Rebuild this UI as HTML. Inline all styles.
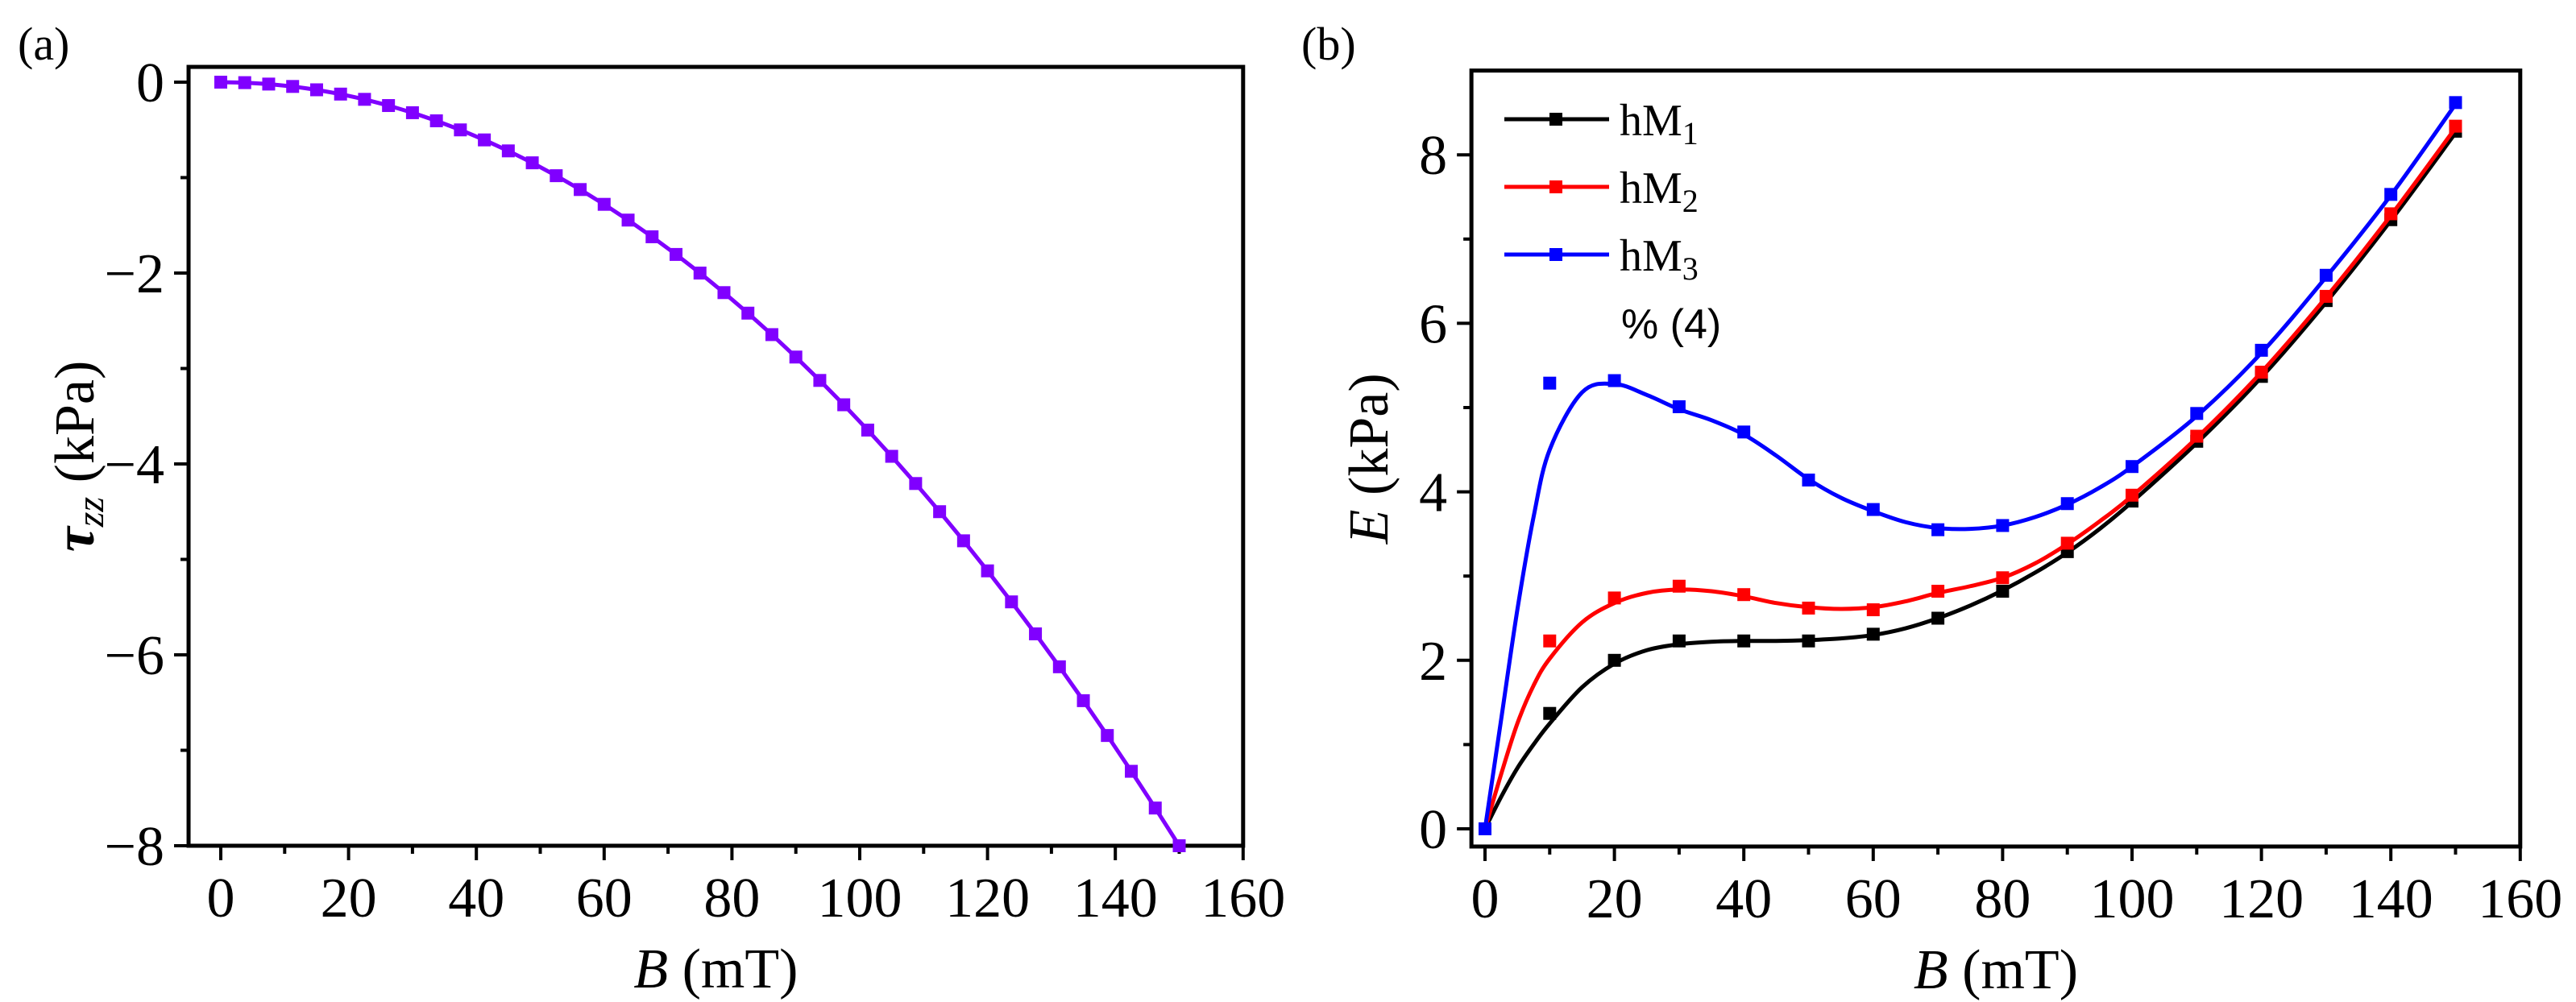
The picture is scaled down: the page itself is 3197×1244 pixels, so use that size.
<!DOCTYPE html>
<html><head><meta charset="utf-8"><style>html,body{margin:0;padding:0;background:#fff;overflow:hidden}svg{display:block}text{font-family:"Liberation Serif",serif;fill:#000}</style></head>
<body>
<svg id="c" width="3197" height="1244" viewBox="0 0 3197 1244" xmlns="http://www.w3.org/2000/svg">
<text x="22" y="74" font-size="58">(a)</text>
<text x="1615" y="74" font-size="58">(b)</text>
<g id="ga"></g>
<g id="gb"></g>
</svg>
<script>
const aB=[0,3.75,7.5,11.25,15,18.75,22.5,26.25,30,33.75,37.5,41.25,45,48.75,52.5,56.25,60,63.75,67.5,71.25,75,78.75,82.5,86.25,90,93.75,97.5,101.25,105,108.75,112.5,116.25,120,123.75,127.5,131.25,135,138.75,142.5,146.25,150];
const aTau=[0,-0.005,-0.02,-0.045,-0.08,-0.125,-0.18,-0.245,-0.32,-0.405,-0.5,-0.605,-0.72,-0.845,-0.98,-1.125,-1.28,-1.445,-1.62,-1.805,-2.0,-2.205,-2.42,-2.645,-2.88,-3.125,-3.38,-3.645,-3.92,-4.205,-4.5,-4.805,-5.12,-5.445,-5.78,-6.125,-6.48,-6.845,-7.22,-7.605,-8.0];
const xTicks=[0,20,40,60,80,100,120,140,160];
const aYTicks=[0,-2,-4,-6,-8];
const bYTicks=[0,2,4,6,8];
const bB=[0,10,20,30,40,50,60,70,80,90,100,110,120,130,140,150];
const hM1=[0,1.37,2.0,2.23,2.23,2.23,2.31,2.5,2.82,3.29,3.89,4.6,5.37,6.27,7.23,8.28];
const hM2=[0,2.23,2.74,2.88,2.78,2.62,2.6,2.82,2.98,3.39,3.96,4.66,5.42,6.32,7.3,8.34];
const hM3=[0,5.29,5.32,5.01,4.71,4.14,3.79,3.55,3.6,3.86,4.3,4.93,5.68,6.57,7.53,8.62];
const fitB=[0,2.5,5,7.5,10,15,20,25,30,35,40,45,50,55,60,65,70,75,80,85,90,95,100,110,120,130,140,150];
const fit1=[0,0.38,0.72,1.0,1.25,1.68,1.96,2.12,2.19,2.22,2.23,2.23,2.24,2.26,2.3,2.38,2.5,2.65,2.83,3.04,3.28,3.56,3.88,4.58,5.36,6.25,7.22,8.26];
const fit2=[0,0.65,1.25,1.7,2.02,2.45,2.68,2.8,2.84,2.82,2.76,2.68,2.63,2.61,2.63,2.7,2.8,2.88,2.98,3.15,3.38,3.65,3.95,4.64,5.42,6.31,7.28,8.32];
const fit3=[0,1.3,2.6,3.7,4.5,5.18,5.28,5.15,4.98,4.85,4.68,4.43,4.15,3.93,3.77,3.64,3.57,3.56,3.6,3.7,3.85,4.05,4.3,4.9,5.65,6.55,7.52,8.6];
const NS="http://www.w3.org/2000/svg";
function mk(p,t,a){const e=document.createElementNS(NS,t);for(const k in a)e.setAttribute(k,a[k]);p.appendChild(e);return e;}
function spline(pts){let d="M"+pts[0][0]+","+pts[0][1];for(let i=0;i<pts.length-1;i++){const p0=pts[Math.max(0,i-1)],p1=pts[i],p2=pts[i+1],p3=pts[Math.min(pts.length-1,i+2)];const c1=[p1[0]+(p2[0]-p0[0])/6,p1[1]+(p2[1]-p0[1])/6],c2=[p2[0]-(p3[0]-p1[0])/6,p2[1]-(p3[1]-p1[1])/6];d+=" C"+c1[0]+","+c1[1]+" "+c2[0]+","+c2[1]+" "+p2[0]+","+p2[1];}return d;}
function axes(g,X,Y,x0,x1,y0,y1,yTicks,yMinor,yTitleOff,yTitleNodes){
 const L=X(x0),R=X(x1),T=Y(y1),Bo=Y(y0);
 let e=mk(g,"rect",{x:L,y:T,width:R-L,height:Bo-T,fill:"none",stroke:"#000","stroke-width":5});
 
 xTicks.forEach(v=>{const x=X(v);mk(g,"line",{x1:x,x2:x,y1:Bo,y2:Bo+18,stroke:"#000","stroke-width":4});
  const t=mk(g,"text",{x:x,y:Bo+88,"font-size":70,"text-anchor":"middle"});t.textContent=v;
  
  if(v<160){const xm=X(v+10);mk(g,"line",{x1:xm,x2:xm,y1:Bo,y2:Bo+10,stroke:"#000","stroke-width":4});}});
 yTicks.forEach(v=>{const y=Y(v);mk(g,"line",{x1:L,x2:L-18,y1:y,y2:y,stroke:"#000","stroke-width":4});
  const t=mk(g,"text",{x:L-30,y:y+24,"font-size":70,"text-anchor":"end"});t.textContent=(v<0?"\u2212"+(-v):v);
  });
 yMinor.forEach(v=>{const y=Y(v);mk(g,"line",{x1:L,x2:L-10,y1:y,y2:y,stroke:"#000","stroke-width":4});});
 const xt=mk(g,"text",{x:(L+R)/2,y:Bo+176,"font-size":70,"text-anchor":"middle"});
 xt.innerHTML='<tspan font-style="italic">B</tspan> (mT)';
 
 const yt=mk(g,"text",{x:0,y:0,"font-size":70,"text-anchor":"middle",transform:"translate("+(L-yTitleOff)+","+((T+Bo)/2)+") rotate(-90)"});
 yt.innerHTML=yTitleNodes;
 
}
// chart a
const ga=document.getElementById("ga");
const Xa=v=>274+v*7.93, Ya=v=>102-v*118.5;
axes(ga,Xa,Ya,-5.04,160,-8,0.16,aYTicks,[-1,-3,-5,-7],118,'<tspan font-style="italic" font-weight="bold">τ</tspan><tspan font-size="48" dy="12" font-style="italic">zz</tspan><tspan dy="-12"> (kPa)</tspan>');
let pa=mk(ga,"polyline",{points:aB.map((b,i)=>Xa(b)+","+Ya(aTau[i])).join(" "),fill:"none",stroke:"#8000ff","stroke-width":5});

aB.forEach((b,i)=>{const r=mk(ga,"rect",{x:Xa(b)-8,y:Ya(aTau[i])-8,width:16,height:16,fill:"#8000ff"});
 });
// chart b
const gb=document.getElementById("gb");
const Xb=v=>1843+v*8.03, Yb=v=>1029-v*104.6;
axes(gb,Xb,Yb,-2.1,160,-0.21,9.0,bYTicks,[1,3,5,7],104,'<tspan font-style="italic">E</tspan> (kPa)');
const series=[[hM1,fit1,"#000000",1],[hM2,fit2,"#ff0000",2],[hM3,fit3,"#0000ff",3]];
series.forEach((s,k)=>{
 const p=mk(gb,"path",{d:spline(fitB.map((b,i)=>[Xb(b),Yb(s[1][i])])),fill:"none",stroke:s[2],"stroke-width":5});
 
 bB.forEach((b,i)=>{const r=mk(gb,"rect",{x:Xb(b)-8,y:Yb(s[0][i])-8,width:16,height:16,fill:s[2]});
  });
 const ly=148+k*84;
 const lg=mk(gb,"g",{});
 mk(lg,"line",{x1:1867,x2:1997,y1:ly,y2:ly,stroke:s[2],"stroke-width":5});
 mk(lg,"rect",{x:1923,y:ly-8,width:16,height:16,fill:s[2]});
 const t=mk(lg,"text",{x:2010,y:ly+20,"font-size":56});
 t.innerHTML='hM<tspan font-size="40" dy="11">'+s[3]+'</tspan>';
});
const pc=mk(gb,"text",{x:2012,y:420,"font-size":52,style:"font-family:'Liberation Sans',sans-serif"});
pc.textContent="% (4)";

</script>
</body></html>
